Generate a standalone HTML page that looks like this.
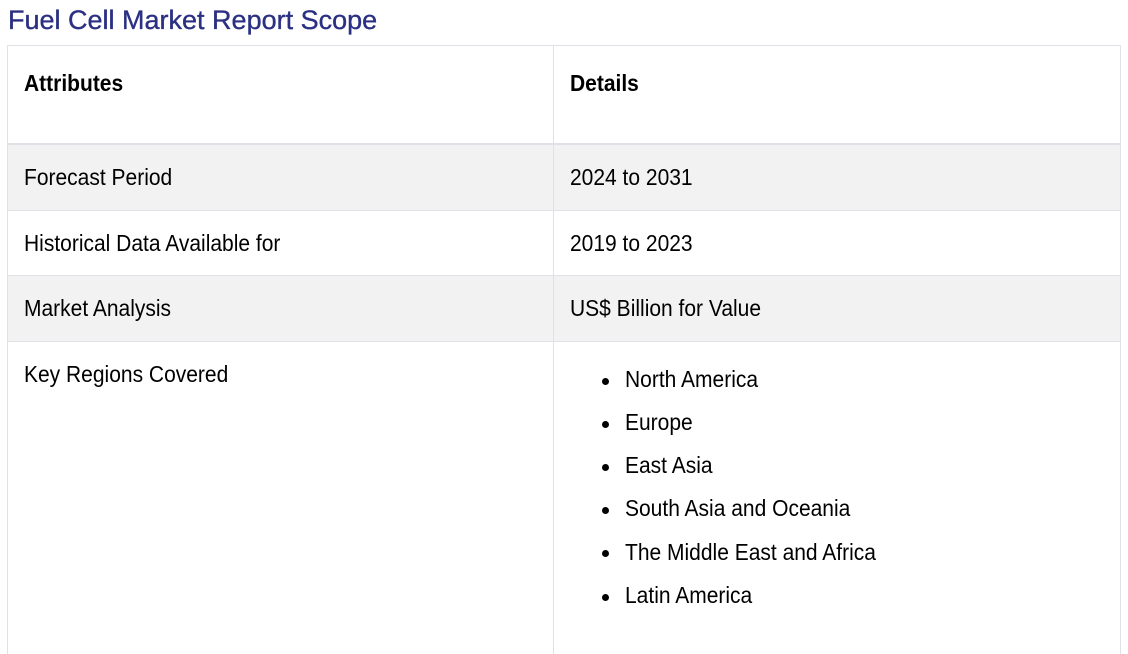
<!DOCTYPE html>
<html>
<head>
<meta charset="utf-8">
<style>
  html, body { margin:0; padding:0; background:#fff; }
  body { width:1128px; height:654px; overflow:hidden; position:relative;
         font-family:"Liberation Sans", Arial, sans-serif; color:#000; }
  .t { position:absolute; white-space:nowrap; font-size:21px; line-height:24px;
       transform:scaleY(1.08); transform-origin:0 19.3px; }
  .b { font-weight:bold; color:#000; }
  .title { position:absolute; left:8px; top:3.6px; font-size:27px; line-height:32px;
           color:#2b3082; white-space:nowrap; -webkit-text-stroke:0.35px #2b3082; }
  .hl { position:absolute; background:#dee2e6; height:1px; left:7px; width:1114px; }
  .vl { position:absolute; background:#dee2e6; width:1px; top:45px; height:609px; }
  .bg { position:absolute; background:#f2f2f2; left:8px; width:1112px; }
  .dot { position:absolute; width:7px; height:7px; border-radius:50%; background:#000; left:601.5px; }
</style>
</head>
<body>
  <div class="title">Fuel Cell Market Report Scope</div>

  <div class="bg" style="top:145px;height:65px;"></div>
  <div class="bg" style="top:276px;height:65px;"></div>

  <div class="hl" style="top:45px;"></div>
  <div class="hl" style="top:143px;height:2px;"></div>
  <div class="hl" style="top:210px;"></div>
  <div class="hl" style="top:275px;"></div>
  <div class="hl" style="top:341px;"></div>

  <div class="vl" style="left:7px;"></div>
  <div class="vl" style="left:553px;"></div>
  <div class="vl" style="left:1120px;"></div>

  <div class="t b" style="left:24px;top:72.7px;">Attributes</div>
  <div class="t b" style="left:570px;top:72.7px;">Details</div>

  <div class="t" style="left:24px;top:166.7px;">Forecast Period</div>
  <div class="t" style="left:570px;top:166.7px;">2024 to 2031</div>

  <div class="t" style="left:24px;top:232.7px;">Historical Data Available for</div>
  <div class="t" style="left:570px;top:232.7px;">2019 to 2023</div>

  <div class="t" style="left:24px;top:297.7px;">Market Analysis</div>
  <div class="t" style="left:570px;top:297.7px;">US$ Billion for Value</div>

  <div class="t" style="left:24px;top:363.7px;">Key Regions Covered</div>

  <div class="dot" style="top:377.5px;"></div>
  <div class="t" style="left:625px;top:368.7px;">North America</div>

  <div class="dot" style="top:420.7px;"></div>
  <div class="t" style="left:625px;top:411.9px;">Europe</div>

  <div class="dot" style="top:463.9px;"></div>
  <div class="t" style="left:625px;top:455.1px;">East Asia</div>

  <div class="dot" style="top:507.1px;"></div>
  <div class="t" style="left:625px;top:498.3px;">South Asia and Oceania</div>

  <div class="dot" style="top:550.3px;"></div>
  <div class="t" style="left:625px;top:541.5px;">The Middle East and Africa</div>

  <div class="dot" style="top:593.5px;"></div>
  <div class="t" style="left:625px;top:584.7px;">Latin America</div>
</body>
</html>
